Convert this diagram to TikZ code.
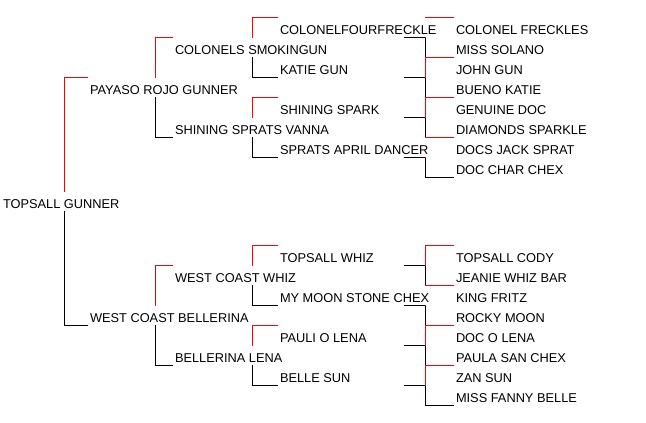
\documentclass[tikz,border=0pt]{standalone}
\usepackage{fontspec}
\setmainfont{Liberation Sans}
\usetikzlibrary{backgrounds}
\tikzset{
  horse/.style={anchor=base west, yshift=-4.6pt, fill=white, inner xsep=1.5pt,
                inner ysep=0pt, outer sep=0.5pt, text height=16.1pt, text depth=2.9pt,
                font=\fontsize{12.8}{15}\selectfont},
  sireln/.style={draw=red, line width=1pt},
  damln/.style={draw=black, line width=1pt},
}
\begin{document}
\begin{tikzpicture}[x=1pt, y=-1pt]
  \useasboundingbox (-0.5,-0.5) rectangle (645.5,422.5);
  % bracket columns
  \coordinate (c0) at (64,0);
  \coordinate (c1) at (155,0);
  \coordinate (c2) at (252,0);
  \coordinate (c3) at (425,0);
  \coordinate (s3) at (403,0);

  \node[horse] (tg) at (0.5,203) {TOPSALL GUNNER};

  \node[horse] (prg) at (87.5,89) {PAYASO ROJO GUNNER};
  \node[horse] (wcb) at (87.5,317) {WEST COAST BELLERINA};

  \node[horse] (cs) at (172.5,49) {COLONELS SMOKINGUN};
  \node[horse] (ssv) at (172.5,129) {SHINING SPRATS VANNA};
  \node[horse] (wcw) at (172.5,277) {WEST COAST WHIZ};
  \node[horse] (bl) at (172.5,357) {BELLERINA LENA};

  \node[horse] (cf) at (277.5,29) {COLONELFOURFRECKLE};
  \node[horse] (kg) at (277.5,69) {KATIE GUN};
  \node[horse] (ss) at (277.5,109) {SHINING SPARK};
  \node[horse] (sad) at (277.5,149) {SPRATS APRIL DANCER};
  \node[horse] (tw) at (277.5,257) {TOPSALL WHIZ};
  \node[horse] (mmsc) at (277.5,297) {MY MOON STONE CHEX};
  \node[horse] (pol) at (277.5,337) {PAULI O LENA};
  \node[horse] (bs) at (277.5,377) {BELLE SUN};

  \foreach \n/\y/\t in {cfr/29/COLONEL FRECKLES, mso/49/MISS SOLANO, jg/69/JOHN GUN,
      bk/89/BUENO KATIE, gd/109/GENUINE DOC, dsp/129/DIAMONDS SPARKLE,
      djs/149/DOCS JACK SPRAT, dcc/169/DOC CHAR CHEX, tc/257/TOPSALL CODY,
      jwb/277/JEANIE WHIZ BAR, kf/297/KING FRITZ, rm/317/ROCKY MOON,
      dol/337/DOC O LENA, psc/357/PAULA SAN CHEX, zs/377/ZAN SUN,
      mfb/397/MISS FANNY BELLE}
    \node[horse] (\n) at (453.5,\y) {\t};

  \begin{scope}[on background layer]
    % sire on top in red, dam below in black
    \foreach \p/\s/\d/\c in {tg/prg/wcb/c0, prg/cs/ssv/c1, wcb/wcw/bl/c1,
        cs/cf/kg/c2, ssv/ss/sad/c2, wcw/tw/mmsc/c2, bl/pol/bs/c2} {
      \draw[damln] (\d.south west) -| (\c |- \p.center);
      \draw[sireln] (\s.north west) -| (\c |- \p.center);
    }
    \foreach \p/\d in {cf/mso, kg/bk, ss/dsp, sad/dcc, tw/jwb, mmsc/rm, pol/psc, bs/mfb}
      \draw[damln] (s3 |- \p.south) -- (c3 |- \p.south) |- (\d.south west);
    \foreach \p/\s in {cf/cfr, kg/jg, ss/gd, sad/djs, tw/tc, mmsc/kf, pol/dol, bs/zs}
      \draw[sireln] (\s.north west) -| (c3 |- \p.south);
  \end{scope}
\end{tikzpicture}
\end{document}
